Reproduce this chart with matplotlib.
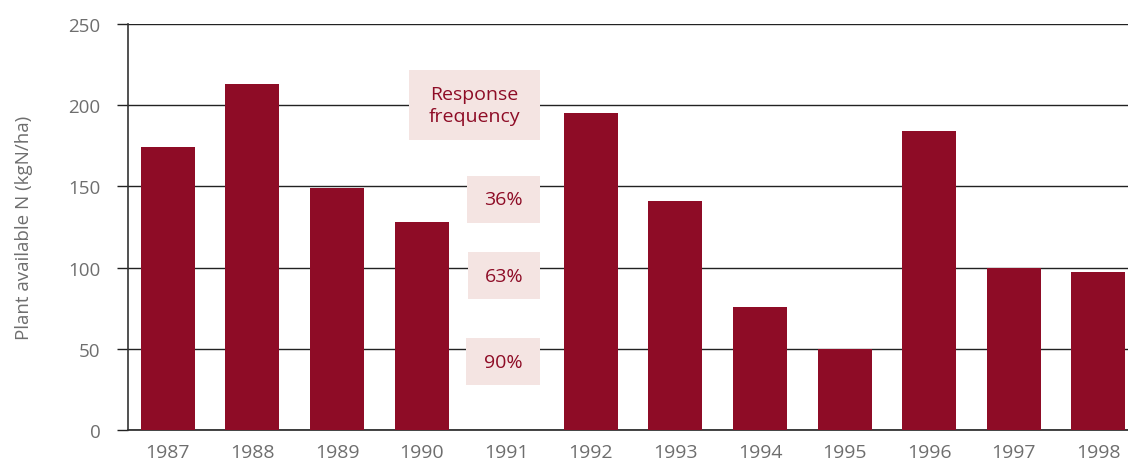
import matplotlib.pyplot as plt
from matplotlib.patches import Rectangle

years = ['1987', '1988', '1989', '1990', '1991', '1992',
         '1993', '1994', '1995', '1996', '1997', '1998']
nitrogen = [174, 213, 149, 128, 0, 195, 141, 76, 50, 184, 100, 97]

freq_labels = ['Response\nfrequency', '36%', '63%', '90%']
freq_levels = [200, 142, 95, 42]

bar_color = '#8E0C26'
box_color = '#F4E4E2'
grey = '#6E6E6E'

plt.rcParams['font.family'] = ['Open Sans', 'DejaVu Sans']

fig = plt.figure(figsize=(11.28, 4.64), dpi=100)
ax = fig.add_axes([0.1135, 0.0711, 0.8865, 0.875])

x = list(range(len(years)))
ax.bar(x, nitrogen, width=0.64, color=bar_color, zorder=3)

ax.set_xlim(-0.47, 11.35)
ax.set_ylim(0, 250)
ax.set_yticks([0, 50, 100, 150, 200, 250])
ax.set_xticks(x)
ax.set_xticklabels(years)

# gridlines
ax.grid(axis='y', color='#222222', linewidth=1.0, zorder=1)
ax.axhline(0, color='#222222', linewidth=1.2, zorder=1, clip_on=False)
ax.set_axisbelow(True)
for s in ['top', 'right', 'bottom']:
    ax.spines[s].set_visible(False)
ax.spines['left'].set_color('#333333')
ax.spines['left'].set_linewidth(1.2)
ax.spines['left'].set_zorder(4)

ax.tick_params(axis='y', length=8, width=1.0, color='#222222', pad=12,
               labelsize=13.5, labelcolor=grey)
ax.tick_params(axis='x', length=0, pad=9, labelsize=14, labelcolor=grey)
ax.set_ylabel('Plant available N (kgN/ha)', fontsize=13.5, color=grey)
ax.yaxis.set_label_coords(-0.095, 0.5)

# response frequency boxes (right edge aligned)
box_right = 4.4
widths = [1.55, 0.86, 0.85, 0.87]
heights = [43, 29, 29, 29]
for lab, lev, w, h in zip(freq_labels, freq_levels, widths, heights):
    ax.add_patch(Rectangle((box_right - w, lev - h / 2), w, h,
                           facecolor=box_color, edgecolor='none', zorder=2))
    ax.text(box_right - w / 2, lev, lab, ha='center', va='center',
            fontsize=14, color=bar_color, linespacing=1.25, zorder=3)

plt.savefig('out.png', dpi=100)
